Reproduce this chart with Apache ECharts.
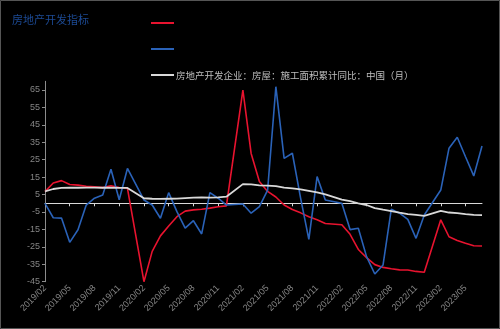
<!DOCTYPE html>
<html>
<head>
<meta charset="utf-8">
<script src="https://cdn.jsdelivr.net/npm/echarts@6/dist/echarts.min.js"></script>
<style>
html,body{margin:0;padding:0;background:#000;}
#c{width:500px;height:329px;}
</style>
</head>
<body>
<div id="c"></div>
<script>
const categories = [
 '2019/02','2019/03','2019/04','2019/05','2019/06','2019/07','2019/08','2019/09','2019/10','2019/11','2019/12',
 '2020/01','2020/02','2020/03','2020/04','2020/05','2020/06','2020/07','2020/08','2020/09','2020/10','2020/11','2020/12',
 '2021/01','2021/02','2021/03','2021/04','2021/05','2021/06','2021/07','2021/08','2021/09','2021/10','2021/11','2021/12',
 '2022/01','2022/02','2022/03','2022/04','2022/05','2022/06','2022/07','2022/08','2022/09','2022/10','2022/11','2022/12',
 '2023/01','2023/02','2023/03','2023/04','2023/05','2023/06','2023/07'
];
const redSeries = [6.7, 11.6, 13.0, 10.8, 10.4, 9.8, 9.4, 9.0, 10.1, 9.1, 8.6, null,
 -45.0, -27.6, -18.7, -13.0, -7.7, -4.5, -3.8, -3.4, -2.8, -2.0, -1.5, null,
 65.0, 28.6, 12.5, 6.8, 3.6, -1.0, -3.6, -5.5, -7.7, -9.4, -11.6, null,
 -12.3, -17.8, -26.5, -31.2, -35.2, -36.8, -37.6, -38.2, -38.3, -39.1, -39.6, null,
 -9.5, -19.2, -21.3, -22.9, -24.4, -24.5];
const blueSeries = [0, -8.3, -8.5, -22.4, -15.2, -1.0, 2.9, 4.8, 19.5, 2.0, 20.0, null,
 1.9, -1.0, -8.6, 6.1, -4.8, -14.3, -10.0, -17.6, 6.1, 2.9, -1.0, null,
 -0.4, -5.7, -1.9, 7.6, 66.9, 25.8, 28.7, 3.0, -20.7, 15.3, 1.9, null,
 0.0, -15.1, -14.3, -30.6, -40.6, -35.4, -3.4, -5.7, -9.2, -20.1, -6.7, null,
 7.6, 31.6, 37.9, 26.7, 15.7, 32.9];
const whiteSeries = [6.8, 8.2, 8.8, 8.9, 8.9, 9.0, 9.0, 8.9, 9.0, 8.8, 8.8, null,
 2.9, 2.6, 2.5, 2.6, 2.7, 3.0, 3.3, 3.4, 3.3, 3.4, 3.8, null,
 11.0, 10.9, 10.3, 10.1, 9.9, 9.0, 8.6, 8.0, 7.1, 6.2, 5.1, null,
 2.1, 1.2, 0.0, -1.0, -2.8, -3.7, -4.5, -5.4, -6.2, -6.6, -7.2, null,
 -4.4, -5.3, -5.6, -6.2, -6.6, -6.8];
const yTicks = [-45, -35, -25, -15, -5, 5, 15, 25, 35, 45, 55, 65];
const titleText = '房地产开发指标';
const whiteName = '房地产开发企业：房屋：施工面积累计同比：中国（月）';
const redName = '\u200b';
const blueName = '\u200b\u200b';

const FONT = "'Liberation Sans','Noto Sans CJK SC',sans-serif";
const chart = echarts.init(document.getElementById('c'), null, {renderer: 'canvas'});
chart.setOption({
  backgroundColor: '#000',
  animation: false,
  title: {
    text: titleText, left: 7, top: 9,
    textStyle: {color: '#1c4a94', fontSize: 11, fontWeight: 'normal', fontFamily: "'Noto Sans CJK SC',serif"}
  },
  legend: {
    orient: 'vertical', left: 146, top: 11, itemWidth: 23, itemHeight: 2, itemGap: 12,
    icon: 'rect',
    data: [redName, blueName, whiteName],
    textStyle: {color: '#bfbfbf', fontSize: 9.5, lineHeight: 14, fontFamily: "'Noto Sans CJK SC',sans-serif", padding: [0,0,0,-3]}
  },
  graphic: [{
    type: 'rect', shape: {x: 0.5, y: 0.5, width: 499, height: 328},
    style: {fill: 'none', stroke: '#555', lineWidth: 1}, silent: true
  }],
  grid: {left: 45, right: 18, top: 81.3, bottom: 47.3},
  xAxis: [{
    type: 'category', data: categories, boundaryGap: false, position: 'bottom',
    axisLine: {show: false, onZero: false}, axisTick: {show: false},
    axisLabel: {interval: 2, rotate: 45, color: '#858585', fontSize: 9, margin: 5, fontFamily: FONT}
  }, {
    type: 'category', data: categories, boundaryGap: false, position: 'bottom',
    axisLine: {show: true, onZero: true, lineStyle: {color: '#d9d9d9', width: 1}},
    axisTick: {show: true, interval: 2, length: 3, lineStyle: {color: '#d9d9d9'}},
    axisLabel: {show: false}
  }],
  yAxis: {
    type: 'value', min: -45, max: 70, interval: 10,
    axisLine: {show: true, lineStyle: {color: '#8c8c8c'}},
    axisTick: {show: true, length: 3, customValues: yTicks, lineStyle: {color: '#8c8c8c'}},
    axisLabel: {color: '#858585', fontSize: 9, margin: 5, customValues: yTicks, fontFamily: FONT},
    splitLine: {show: false}
  },
  series: [{
    name: redName, type: 'line', data: redSeries, symbol: 'none', connectNulls: true,
    lineStyle: {color: '#e8132f', width: 1.6}, itemStyle: {color: '#e8132f'}, xAxisIndex: 0
  }, {
    name: blueName, type: 'line', data: blueSeries, symbol: 'none', connectNulls: true,
    lineStyle: {color: '#2a62b8', width: 1.6}, itemStyle: {color: '#2a62b8'}, xAxisIndex: 0
  }, {
    name: whiteName, type: 'line', data: whiteSeries, symbol: 'none', connectNulls: true,
    lineStyle: {color: '#d9d9d9', width: 1.8}, itemStyle: {color: '#d9d9d9'}, xAxisIndex: 0
  }]
});
</script>
</body>
</html>
